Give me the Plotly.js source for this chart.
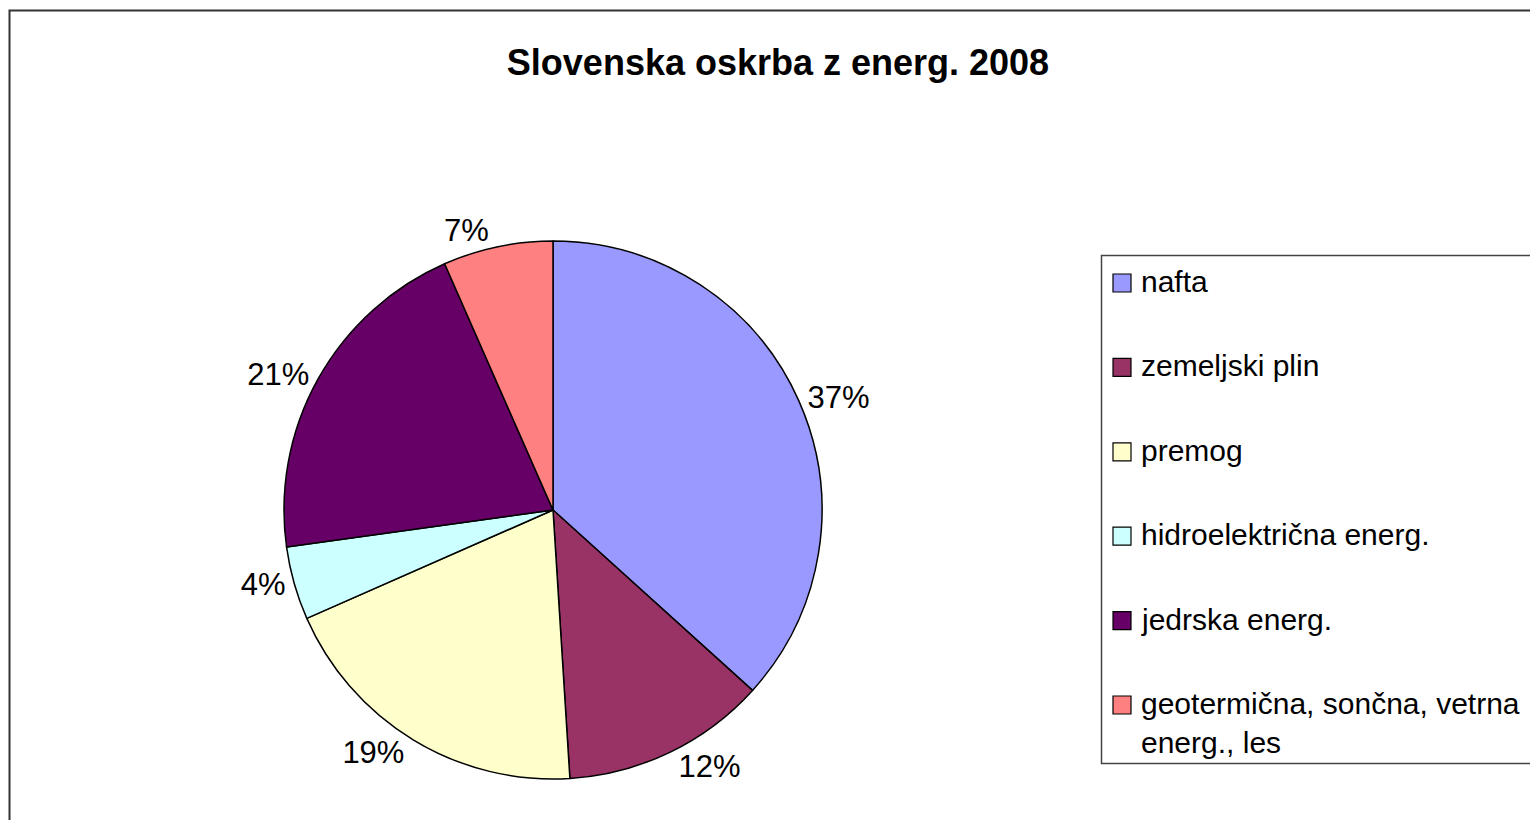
<!DOCTYPE html>
<html>
<head>
<meta charset="utf-8">
<script src="https://cdn.plot.ly/plotly-3.0.1.min.js"></script>
<style>html,body{margin:0;padding:0;background:#fff;}#chart{width:1530px;height:820px;}</style>
</head>
<body>
<div id="chart"></div>
<script>
const categories = ["nafta", "zemeljski plin", "premog", "hidroelektrična energ.", "jedrska energ.", "geotermična, sončna, vetrna<br>energ., les"];
const shares = [36.7, 12.3, 19.4, 4.4, 20.6, 6.6];
const colors = ["#9999FF", "#993366", "#FFFFCC", "#CCFFFF", "#660066", "#FF8080"];
const titleText = "Slovenska oskrba z energ. 2008";

const W = 1530, H = 820;
const px = x => x / W;
const py = y => 1 - y / H;
const FONT = "Liberation Sans, Arial, sans-serif";

const trace = {
  type: "pie",
  labels: categories,
  values: shares,
  sort: false,
  direction: "clockwise",
  rotation: 0,
  marker: { colors: colors, line: { color: "#000000", width: 1.5 } },
  textposition: "outside",
  texttemplate: "%{percent:.0%}",
  textfont: { family: FONT, size: 31, color: "#000000" },
  hoverinfo: "label+percent",
  showlegend: false,
  domain: { x: [px(284), px(822)], y: [py(779), py(241)] }
};

const shapes = [
  { type: "rect", xref: "paper", yref: "paper", x0: px(9.5), x1: 1.02, y0: -0.02, y1: py(10.5),
    line: { color: "#333333", width: 2 }, fillcolor: "rgba(0,0,0,0)", layer: "below" },
  { type: "rect", xref: "paper", yref: "paper", x0: px(1101.5), x1: 1.02, y0: py(763.5), y1: py(255.5),
    line: { color: "#444444", width: 1.5 }, fillcolor: "rgba(0,0,0,0)" }
];
const annotations = [];
const rowTop = 283, rowStep = 84.4;
categories.forEach((c, i) => {
  const cy = rowTop + i * rowStep;
  shapes.push({ type: "rect", xref: "paper", yref: "paper",
    x0: px(1113), x1: px(1131), y0: py(cy + 9), y1: py(cy - 9),
    fillcolor: colors[i], line: { color: "#000000", width: 1.2 } });
  annotations.push({ xref: "paper", yref: "paper", x: px(1139), y: py(cy - 20),
    xanchor: "left", yanchor: "top", align: "left", showarrow: false, text: c,
    font: { family: FONT, size: 30, color: "#000000" } });
});

const layout = {
  width: W, height: H,
  margin: { l: 0, r: 0, t: 0, b: 0 },
  paper_bgcolor: "#ffffff",
  title: { text: "<b>" + titleText + "</b>", x: px(778), xanchor: "center", y: py(62), yanchor: "middle",
    font: { family: FONT, size: 36, color: "#000000" } },
  showlegend: false,
  shapes: shapes,
  annotations: annotations
};

Plotly.newPlot("chart", [trace], layout, { displayModeBar: false, staticPlot: true });
</script>
</body>
</html>
